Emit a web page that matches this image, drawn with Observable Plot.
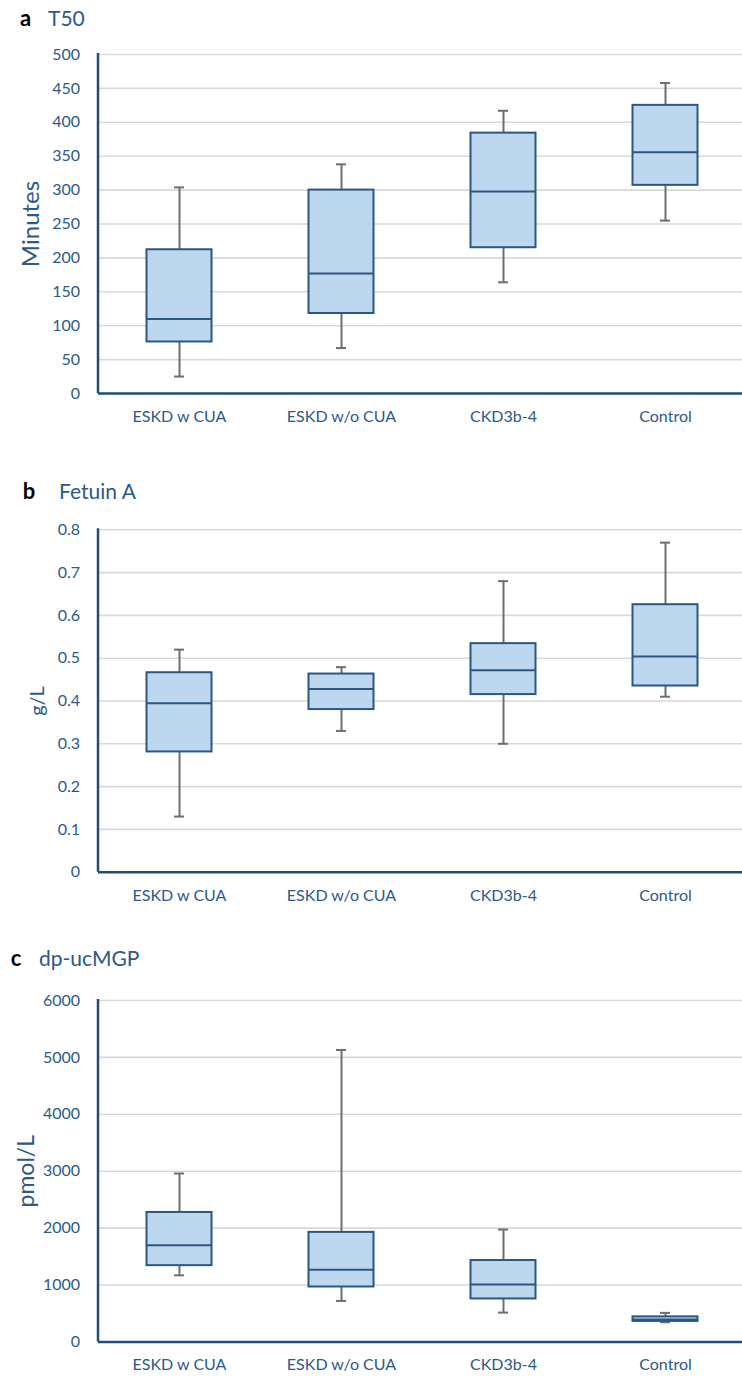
<!DOCTYPE html>
<html><head><meta charset="utf-8">
<script src="https://cdn.jsdelivr.net/npm/d3@7"></script>
<script src="https://cdn.jsdelivr.net/npm/@observablehq/plot@0.6"></script>
<style>
body{margin:0;background:#fff;font-family:Lato,"Open Sans",sans-serif;}
#wrap{position:relative;width:742px;height:1376px;overflow:hidden;}
.t{position:absolute;white-space:nowrap;line-height:22px;}
.letter{font-weight:bold;color:#000;font-size:22px;}
.name{color:#2c5a87;font-size:21px;}
.chart{position:absolute;left:0;}
</style></head><body>
<div id="wrap"></div>
<script>
const groups = ["ESKD w CUA", "ESKD w/o CUA", "CKD3b-4", "Control"];

// Panel a — T50 (Minutes)
const t50Min    = [25, 67, 164, 255];
const t50Q1     = [76, 118, 215, 307];
const t50Median = [110, 177, 298, 356];
const t50Q3     = [212, 300, 384, 425];
const t50Max    = [304, 338, 417, 458];
const t50Ticks  = [0, 50, 100, 150, 200, 250, 300, 350, 400, 450, 500];

// Panel b — Fetuin A (g/L)
const fetMin    = [0.13, 0.33, 0.30, 0.41];
const fetQ1     = [0.281, 0.38, 0.415, 0.435];
const fetMedian = [0.395, 0.428, 0.472, 0.504];
const fetQ3     = [0.466, 0.463, 0.534, 0.625];
const fetMax    = [0.52, 0.479, 0.68, 0.77];
const fetTicks  = [0, 0.1, 0.2, 0.3, 0.4, 0.5, 0.6, 0.7, 0.8];

// Panel c — dp-ucMGP (pmol/L)
const mgpMin    = [1170, 720, 515, 345];
const mgpQ1     = [1340, 965, 755, 360];
const mgpMedian = [1700, 1270, 1010, 395];
const mgpQ3     = [2275, 1925, 1430, 440];
const mgpMax    = [2960, 5130, 1975, 510];
const mgpTicks  = [0, 1000, 2000, 3000, 4000, 5000, 6000];

const AXIS = "#1f4e79", TEXT = "#2c5a87", BOXSTROKE = "#2b5784", FILL = "#bdd7ee", WHISK = "#6e6e6e", GRID = "#d9d9d9";
const wrap = document.getElementById("wrap");

function rowsOf(min, q1, med, q3, max) {
  return groups.map((g, i) => ({group: g, min: min[i], q1: q1[i], median: med[i], q3: q3[i], max: max[i]}));
}

function addTitle(letter, name, lx, nx, top) {
  const a = document.createElement("div"); a.className = "t letter"; a.textContent = letter;
  a.style.left = lx + "px"; a.style.top = top + "px"; wrap.appendChild(a);
  const b = document.createElement("div"); b.className = "t name"; b.textContent = name;
  b.style.left = nx + "px"; b.style.top = top + "px"; wrap.appendChild(b);
}

function panel({top, height, mT, mB, ticks, fmt, label, labelSize, labelDx, rows}) {
  const boxInset = 48.5, capInset = 76;
  const mid = (ticks[0] + ticks[ticks.length - 1]) / 2;
  const leftAxis = (index, scales, values, dims) => d3.create("svg:line")
    .attr("x1", dims.marginLeft).attr("x2", dims.marginLeft)
    .attr("y1", dims.marginTop - 1).attr("y2", dims.height - dims.marginBottom)
    .attr("stroke", AXIS).attr("stroke-width", 2.5).node();
  const svg = Plot.plot({
    width: 742, height, marginLeft: 98, marginRight: 0, marginTop: mT, marginBottom: mB,
    style: {fontFamily: "Lato, 'Open Sans', sans-serif", fontSize: "16px", color: TEXT, background: "#fff"},
    x: {type: "band", domain: groups, range: [97.7, 746], padding: 0},
    y: {domain: [ticks[0], ticks[ticks.length - 1]]},
    marks: [
      Plot.gridY(ticks, {stroke: GRID, strokeOpacity: 1, strokeWidth: 1.6}),
      Plot.ruleX(rows, {x: "group", y1: "q3", y2: "max", stroke: WHISK, strokeWidth: 2}),
      Plot.ruleX(rows, {x: "group", y1: "q1", y2: "min", stroke: WHISK, strokeWidth: 2}),
      Plot.tickY(rows, {x: "group", y: "max", stroke: WHISK, strokeWidth: 2, insetLeft: capInset, insetRight: capInset}),
      Plot.tickY(rows, {x: "group", y: "min", stroke: WHISK, strokeWidth: 2, insetLeft: capInset, insetRight: capInset}),
      Plot.barY(rows, {x: "group", y1: "q1", y2: "q3", fill: FILL, stroke: BOXSTROKE, strokeWidth: 2, insetLeft: boxInset, insetRight: boxInset}),
      Plot.tickY(rows, {x: "group", y: "median", stroke: BOXSTROKE, strokeWidth: 2, insetLeft: boxInset, insetRight: boxInset}),
      Plot.ruleY([0], {stroke: AXIS, strokeWidth: 2.5}),
      leftAxis,
      Plot.axisY(ticks, {tickSize: 0, tickPadding: 18.5, tickFormat: fmt, label: null}),
      Plot.axisX({tickSize: 0, tickPadding: 17, label: null}),
      Plot.text([label], {y: mid, frameAnchor: "left", dx: labelDx, rotate: -90, textAnchor: "middle", lineAnchor: "middle", fontSize: labelSize, fill: TEXT})
    ]
  });
  svg.classList.add("chart");
  svg.style.top = top + "px";
  wrap.appendChild(svg);
}

addTitle("a", "T50", 20, 48, 7);
panel({top: 36, height: 404, mT: 18, mB: 47, ticks: t50Ticks, fmt: d3.format("d"),
  label: "Minutes", labelSize: 24, labelDx: -67, rows: rowsOf(t50Min, t50Q1, t50Median, t50Q3, t50Max)});

addTitle("b", "Fetuin A", 22.7, 59, 480);
panel({top: 510, height: 410, mT: 19.3, mB: 48.3, ticks: fetTicks, fmt: d => d === 0 ? "0" : d3.format(".1f")(d),
  label: "g/L", labelSize: 20, labelDx: -61, rows: rowsOf(fetMin, fetQ1, fetMedian, fetQ3, fetMax)});

addTitle("c", "dp-ucMGP", 10.7, 39, 947);
panel({top: 980, height: 396, mT: 20, mB: 34.6, ticks: mgpTicks, fmt: d3.format("d"),
  label: "pmol/L", labelSize: 23, labelDx: -72, rows: rowsOf(mgpMin, mgpQ1, mgpMedian, mgpQ3, mgpMax)});
</script>
</body></html>
